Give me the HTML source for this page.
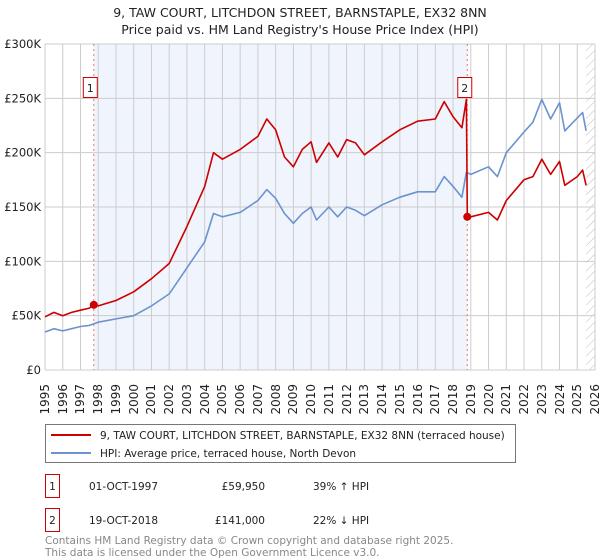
<!DOCTYPE html>
<html><head><meta charset="utf-8">
<style>
body{margin:0;background:#fff;font-family:"DejaVu Sans","Liberation Sans",sans-serif;}
#wrap{position:relative;width:600px;height:560px;overflow:hidden;}
.xl{position:absolute;top:385px;width:40px;height:14px;font-size:12px;line-height:14px;color:#222;text-align:right;transform-origin:0 0;transform:rotate(-90deg);white-space:nowrap;}
</style></head>
<body>
<div id="wrap">
<svg id="chart" width="600" height="560" xmlns="http://www.w3.org/2000/svg" font-family="DejaVu Sans, Liberation Sans, sans-serif" style="position:absolute;left:0;top:0">
<defs>
<pattern id="hatch" width="6" height="6" patternUnits="userSpaceOnUse" patternTransform="rotate(45)">
<line x1="0" y1="0" x2="0" y2="6" stroke="#bbb" stroke-width="1"/>
</pattern>
</defs>
<text x="300" y="17" text-anchor="middle" font-size="12.5" fill="#222">9, TAW COURT, LITCHDON STREET, BARNSTAPLE, EX32 8NN</text>
<text x="300" y="34" text-anchor="middle" font-size="12.5" fill="#222">Price paid vs. HM Land Registry's House Price Index (HPI)</text>
<g id="plot"></g>
<g>
<rect x="45.5" y="424.5" width="470" height="38" fill="#fff" stroke="#777"/>
<line x1="51" y1="435" x2="91" y2="435" stroke="#cc0000" stroke-width="2"/>
<text x="100" y="439" font-size="10.5" fill="#222">9, TAW COURT, LITCHDON STREET, BARNSTAPLE, EX32 8NN (terraced house)</text>
<line x1="51" y1="453" x2="91" y2="453" stroke="#6a93d0" stroke-width="2"/>
<text x="100" y="457" font-size="10.5" fill="#222">HPI: Average price, terraced house, North Devon</text>
</g>
<g>
<rect x="45.5" y="474.5" width="14" height="23" fill="#fff" stroke="#cc0000"/>
<text x="52.5" y="490" text-anchor="middle" font-size="10.5" fill="#222">1</text>
<text x="89" y="490" font-size="10.5" fill="#222">01-OCT-1997</text>
<text x="265" y="490" text-anchor="end" font-size="10.5" fill="#222">£59,950</text>
<text x="313" y="490" font-size="10.5" fill="#222">39% ↑ HPI</text>
<rect x="45.5" y="508.5" width="14" height="23" fill="#fff" stroke="#cc0000"/>
<text x="52.5" y="524" text-anchor="middle" font-size="10.5" fill="#222">2</text>
<text x="89" y="524" font-size="10.5" fill="#222">19-OCT-2018</text>
<text x="265" y="524" text-anchor="end" font-size="10.5" fill="#222">£141,000</text>
<text x="313" y="524" font-size="10.5" fill="#222">22% ↓ HPI</text>
</g>
<text x="45" y="544" font-size="10.5" fill="#888">Contains HM Land Registry data © Crown copyright and database right 2025.</text>
<text x="45" y="556" font-size="10.5" fill="#888">This data is licensed under the Open Government Licence v3.0.</text>
</svg>
</div>
<script>
const hpiDates=[1995,1995.5,1996,1996.5,1997,1997.5,1998,1999,2000,2001,2002,2003,2004,2004.5,2005,2006,2007,2007.5,2008,2008.5,2009,2009.5,2010,2010.3,2011,2011.5,2012,2012.5,2013,2014,2015,2016,2017,2017.5,2018,2018.5,2018.75,2019,2020,2020.5,2021,2022,2022.5,2023,2023.5,2024,2024.3,2025,2025.3,2025.5];
const hpiValues=[35,38,36,38,40,41,44,47,50,59,70,94,118,144,141,145,156,166,158,144,135,144,150,138,150,141,150,147,142,152,159,164,164,178,169,159,182,180,187,178,200,219,228,249,231,246,220,232,237,220];
const priceDates=[1995,1995.5,1996,1996.5,1997,1997.5,1997.75,1998,1999,2000,2001,2002,2003,2004,2004.5,2005,2006,2007,2007.5,2008,2008.5,2009,2009.5,2010,2010.3,2011,2011.5,2012,2012.5,2013,2014,2015,2016,2017,2017.5,2018,2018.5,2018.75,2018.8,2019,2020,2020.5,2021,2022,2022.5,2023,2023.5,2024,2024.3,2025,2025.3,2025.5];
const priceValues=[49,53,50,53,55,57,59.95,59,64,72,84,98,132,169,200,194,203,215,231,221,196,187,203,210,191,209,196,212,209,198,210,221,229,231,247,233,223,249,141,141,145,138,156,175,178,194,180,192,170,178,184,170];
const yTicks=[0,50,100,150,200,250,300];
const yTickLabels=['£0','£50K','£100K','£150K','£200K','£250K','£300K'];
const xYears=[1995,1996,1997,1998,1999,2000,2001,2002,2003,2004,2005,2006,2007,2008,2009,2010,2011,2012,2013,2014,2015,2016,2017,2018,2019,2020,2021,2022,2023,2024,2025,2026];
const saleDates=[1997.75,2018.8];
const salePrices=[59.95,141];
const saleLabels=['1','2'];

const NS='http://www.w3.org/2000/svg';
const X0=45,X1=595,Y0=370,Y1=44;
const xs=t=>X0+(t-1995)/(2026-1995)*(X1-X0);
const ys=v=>Y0-v/300*(Y0-Y1);
const plot=document.getElementById('plot');
const wrap=document.getElementById('wrap');
function mk(tag,attrs){const e=document.createElementNS(NS,tag);for(const k in attrs)e.setAttribute(k,attrs[k]);plot.appendChild(e);return e;}

let e=mk('rect',{x:xs(saleDates[0]),y:Y1,width:xs(saleDates[1])-xs(saleDates[0]),height:Y0-Y1,fill:'#f0f4fd'});


e=mk('rect',{x:xs(2025.5),y:Y1,width:X1-xs(2025.5),height:Y0-Y1,fill:'url(#hatch)'});



xYears.forEach(yr=>{
  const g=mk('line',{x1:xs(yr),x2:xs(yr),y1:Y1,y2:Y0,stroke:'#ccc','stroke-width':1});
  
  
  const d=document.createElement('div');
  d.className='xl';
  d.style.left=(xs(yr)-7)+'px';
  d.style.top='424px';
  d.textContent=yr;
  
  
  wrap.appendChild(d);
});
yTicks.forEach((v,i)=>{
  const g=mk('line',{x1:X0,x2:X1,y1:ys(v),y2:ys(v),stroke:'#ccc','stroke-width':1});
  
  
  const t=mk('text',{x:41,y:ys(v)+4,'font-size':11.5,fill:'#222','text-anchor':'end'});
  t.textContent=yTickLabels[i];
  
  
});

saleDates.forEach((d,i)=>{
  const l=mk('line',{x1:xs(d),x2:xs(d),y1:Y1,y2:Y0,stroke:'#f07070','stroke-width':1,'stroke-dasharray':'2,3'});
  
  
});

function path(dates,vals,color,name){
  const d=dates.map((t,i)=>(i?'L':'M')+xs(t).toFixed(1)+','+ys(vals[i]).toFixed(1)).join('');
  const p=mk('path',{d:d,fill:'none',stroke:color,'stroke-width':1.6,'stroke-linejoin':'round'});
  
  
}
path(hpiDates,hpiValues,'#6a93d0','hpi-line');
path(priceDates,priceValues,'#cc0000','price-paid-line');

saleDates.forEach((d,i)=>{
  const c=mk('circle',{cx:xs(d),cy:ys(salePrices[i]),r:4,fill:'#cc0000'});
  
  
  const bx=xs(d)-8-(i===0?3:2);
  const r=mk('rect',{x:bx+0.5,y:77.5,width:14,height:20,fill:'#fff',stroke:'#cc0000'});
  
  
  const t=mk('text',{x:bx+7.5,y:92,'font-size':11,fill:'#222','text-anchor':'middle'});
  t.textContent=saleLabels[i];
  
  
});
</script>
</body></html>
